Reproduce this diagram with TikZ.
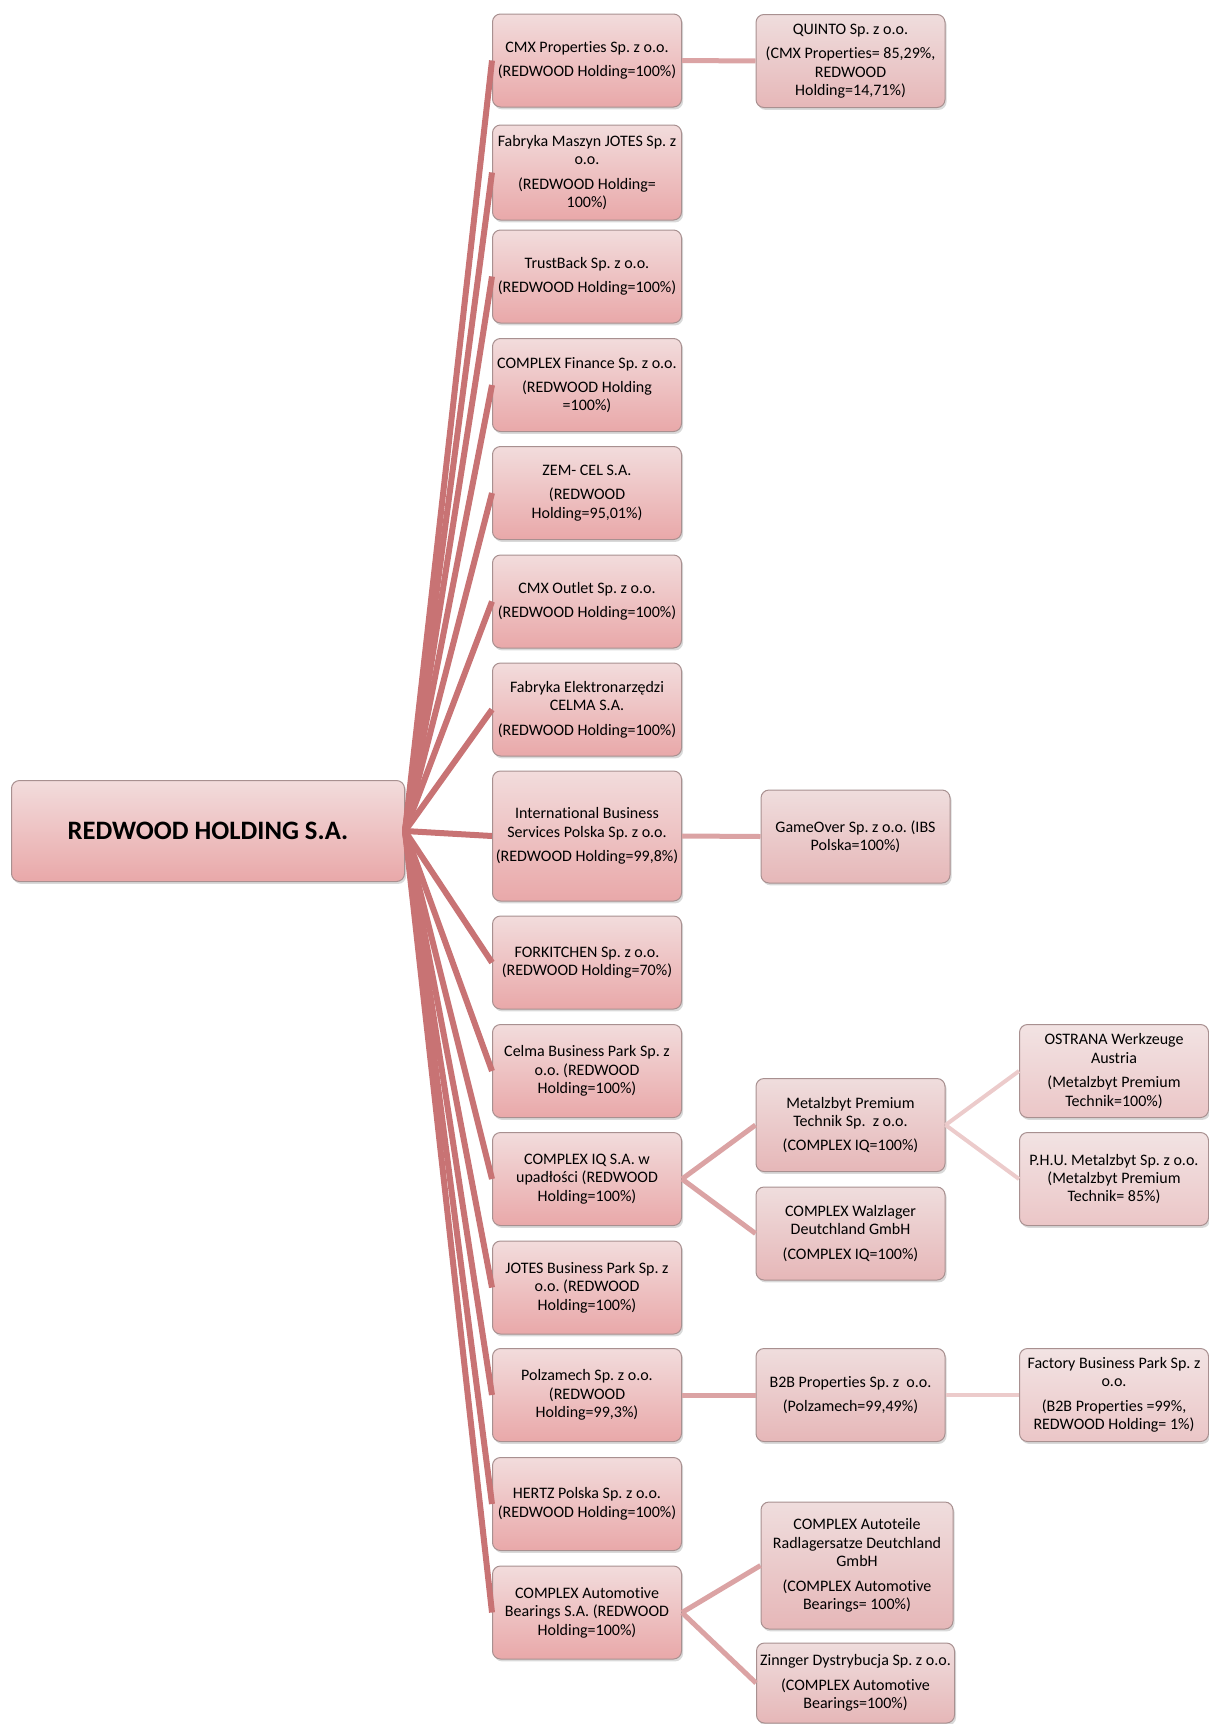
\documentclass[tikz,border=0pt]{standalone}
\usepackage{fontspec}
\setmainfont{Carlito}[Ligatures=NoCommon]
\frenchspacing
\usetikzlibrary{shadows}
\definecolor{rwline}{HTML}{C87374}
\definecolor{rwlinetwo}{HTML}{DBA3A4}
\definecolor{rwlinethree}{HTML}{ECCBCB}
\definecolor{rwtop}{HTML}{F2DCDC}
\definecolor{rwbot}{HTML}{E9A8A9}
\definecolor{rwtoptwo}{HTML}{EFDDDD}
\definecolor{rwbottwo}{HTML}{E6B7B8}
\definecolor{rwtopthree}{HTML}{F2E3E3}
\definecolor{rwbotthree}{HTML}{EBC6C7}
\definecolor{rwborder}{HTML}{A89090}

\begin{document}
\begin{tikzpicture}[
  x=0.5pt, y=-0.5pt,
  rwnode/.style={draw=rwborder, rounded corners=4pt, align=center, inner sep=1pt,
                 top color=rwtop, bottom color=rwbot, line width=0.5pt,
                 minimum width=94.5pt, minimum height=46.5pt,
                 font=\fontsize{8}{9.2}\selectfont,
                 drop shadow={opacity=0.3, shadow xshift=0.8pt, shadow yshift=-1.2pt}},
  rwnodetwo/.style={rwnode, top color=rwtoptwo, bottom color=rwbottwo},
  rwnodethree/.style={rwnode, top color=rwtopthree, bottom color=rwbotthree},
  rwedge/.style={draw=rwline, line width=3pt},
  rwedgetwo/.style={draw=rwlinetwo, line width=2.5pt},
  rwedgethree/.style={draw=rwlinethree, line width=2pt},
]
  \useasboundingbox (0,0) rectangle (1209,1724);
  \node[rwnode, minimum width=196.5pt, minimum height=50.5pt, font=\fontsize{13.3}{15}\selectfont\bfseries] (nroot) at (208,831) {REDWOOD HOLDING S.A.};
  % spolki zalezne
  \node[rwnode] (ncmx) at (587,60.5) {CMX Properties Sp. z o.o.\\[3pt](REDWOOD Holding=100\%)};
  \node[rwnode, minimum height=47.5pt] (njotes) at (587,172.5) {Fabryka Maszyn JOTES Sp. z\\o.o.\\[3pt](REDWOOD Holding=\\100\%)};
  \node[rwnode] (ntrust) at (587,276.5) {TrustBack Sp. z o.o.\\[3pt](REDWOOD Holding=100\%)};
  \node[rwnode] (nfin) at (587,385) {COMPLEX Finance Sp. z o.o.\\[3pt](REDWOOD Holding\\=100\%)};
  \node[rwnode] (nzem) at (587,493) {ZEM- CEL S.A.\\[3pt](REDWOOD\\Holding=95,01\%)};
  \node[rwnode] (noutlet) at (587,601.5) {CMX Outlet Sp. z o.o.\\[3pt](REDWOOD Holding=100\%)};
  \node[rwnode] (ncelma) at (587,709.5) {Fabryka Elektronarzędzi\\CELMA S.A.\\[3pt](REDWOOD Holding=100\%)};
  \node[rwnode, minimum height=65pt] (nibs) at (587,836) {International Business\\Services Polska Sp. z o.o.\\[3pt](REDWOOD Holding=99,8\%)};
  \node[rwnode] (nfork) at (587,962.5) {FORKITCHEN Sp. z o.o.\\(REDWOOD Holding=70\%)};
  \node[rwnode] (ncelmabp) at (587,1071) {Celma Business Park Sp. z\\o.o. (REDWOOD\\Holding=100\%)};
  \node[rwnode] (niq) at (587,1179) {COMPLEX IQ S.A. w\\upadłości (REDWOOD\\Holding=100\%)};
  \node[rwnode] (njotesbp) at (587,1287.5) {JOTES Business Park Sp. z\\o.o. (REDWOOD\\Holding=100\%)};
  \node[rwnode] (npolz) at (587,1395) {Polzamech Sp. z o.o.\\(REDWOOD\\Holding=99,3\%)};
  \node[rwnode] (nhertz) at (587,1504) {HERTZ Polska Sp. z o.o.\\(REDWOOD Holding=100\%)};
  \node[rwnode] (ncab) at (587,1612.5) {COMPLEX Automotive\\Bearings S.A. (REDWOOD\\Holding=100\%)};
  \foreach \n in {ncmx,njotes,ntrust,nfin,nzem,noutlet,ncelma,nibs,nfork,ncelmabp,niq,njotesbp,npolz,nhertz,ncab}
    \draw[rwedge] (nroot.east) -- (\n.west);
  % drugi poziom
  \node[rwnodetwo] (nquinto) at (850.5,61) {QUINTO Sp. z o.o.\\[3pt](CMX Properties= 85,29\%,\\REDWOOD\\Holding=14,71\%)};
  \node[rwnodetwo] (ngame) at (855.5,836.5) {GameOver Sp. z o.o. (IBS\\Polska=100\%)};
  \node[rwnodetwo] (nmetal) at (850.5,1125) {Metalzbyt Premium\\Technik Sp.~ z o.o.\\[3pt](COMPLEX IQ=100\%)};
  \node[rwnodetwo] (nwalz) at (850.5,1233.5) {COMPLEX Walzlager\\Deutchland GmbH\\[3pt](COMPLEX IQ=100\%)};
  \node[rwnodetwo] (nb2b) at (850.5,1395) {B2B Properties Sp. z~ o.o.\\[3pt](Polzamech=99,49\%)};
  \node[rwnodetwo, minimum width=96pt, minimum height=63.5pt] (nauto) at (857,1565.5) {COMPLEX Autoteile\\Radlagersatze Deutchland\\GmbH\\[3pt](COMPLEX Automotive\\Bearings= 100\%)};
  \node[rwnodetwo, minimum width=99pt, minimum height=40pt] (nzinn) at (855.5,1683) {Zinnger Dystrybucja Sp. z o.o.\\[3pt](COMPLEX Automotive\\Bearings=100\%)};
  \draw[rwedgetwo] (ncmx.east) -- (nquinto.west);
  \draw[rwedgetwo] (nibs.east) -- (ngame.west);
  \draw[rwedgetwo] (niq.east) -- (nmetal.west);
  \draw[rwedgetwo] (niq.east) -- (nwalz.west);
  \draw[rwedgetwo] (npolz.east) -- (nb2b.west);
  \draw[rwedgetwo] (ncab.east) -- (nauto.west);
  \draw[rwedgetwo] (ncab.east) -- (nzinn.west);
  % trzeci poziom
  \node[rwnodethree] (nostrana) at (1114,1071) {OSTRANA Werkzeuge\\Austria\\[3pt](Metalzbyt Premium\\Technik=100\%)};
  \node[rwnodethree] (nphu) at (1114,1179) {P.H.U. Metalzbyt Sp. z o.o.\\(Metalzbyt Premium\\Technik= 85\%)};
  \node[rwnodethree] (nfactory) at (1114,1395) {Factory Business Park Sp. z\\o.o.\\[3pt](B2B Properties =99\%,\\REDWOOD Holding= 1\%)};
  \draw[rwedgethree] (nmetal.east) -- (nostrana.west);
  \draw[rwedgethree] (nmetal.east) -- (nphu.west);
  \draw[rwedgethree] (nb2b.east) -- (nfactory.west);
\end{tikzpicture}
\end{document}
